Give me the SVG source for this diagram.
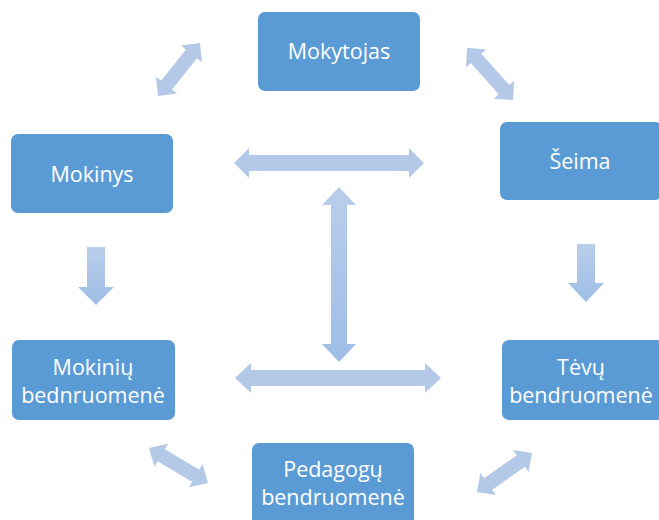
<svg xmlns="http://www.w3.org/2000/svg" width="659" height="520" viewBox="0 0 659 520">
<defs>
<linearGradient id="ga" x1="0" y1="0" x2="0" y2="1">
<stop offset="0" stop-color="#B9CEEB"/>
<stop offset="1" stop-color="#9EBDE6"/>
</linearGradient>
<style>
.node rect{fill:#5B9BD5;}
.node text{fill:#FFFFFF;font-family:"Open Sans","Liberation Sans",sans-serif;font-size:21.5px;text-anchor:middle;}
.arr{fill:#B4C8E8;}
.grad{fill:url(#ga);}
</style>
</defs>
<rect width="659" height="520" fill="#FFFFFF"/>
<g id="connectors">
<path class="arr" transform="translate(179,69.5) rotate(-51.6)" d="M-33.8 0 L-20 -13.5 L-20 -7 L20 -7 L20 -13.5 L33.8 0 L20 13.5 L20 7 L-20 7 L-20 13.5 Z"/>
<path class="arr" transform="translate(490,74) rotate(48.5)" d="M-34.7 0 L-21 -13.5 L-21 -7 L21 -7 L21 -13.5 L34.7 0 L21 13.5 L21 7 L-21 7 L-21 13.5 Z"/>
<path class="arr" transform="translate(329,163)" d="M-95 0 L-80 -15 L-80 -8 L80 -8 L80 -15 L95 0 L80 15 L80 8 L-80 8 L-80 15 Z"/>
<path class="grad" transform="translate(339,274.5)" d="M0 -87.5 L17 -69.5 L8 -69.5 L8 69.5 L17 69.5 L0 87.5 L-17 69.5 L-8 69.5 L-8 -69.5 L-17 -69.5 Z"/>
<path class="grad" d="M87 247 L105 247 L105 287 L114 287 L96 305 L78 287 L87 287 Z"/>
<path class="grad" d="M577 244 L595 244 L595 283 L604 283 L586 302 L568 283 L577 283 Z"/>
<path class="arr" transform="translate(338,378)" d="M-103 0 L-87 -15 L-87 -8 L87 -8 L87 -15 L103 0 L87 15 L87 8 L-87 8 L-87 15 Z"/>
<path class="arr" transform="translate(178.5,465.5) rotate(30.7)" d="M-34.3 0 L-20 -13.5 L-20 -7 L20 -7 L20 -13.5 L34.3 0 L20 13.5 L20 7 L-20 7 L-20 13.5 Z"/>
<path class="arr" transform="translate(504.5,472.5) rotate(-35.3)" d="M-33.7 0 L-20 -13.5 L-20 -7 L20 -7 L20 -13.5 L33.7 0 L20 13.5 L20 7 L-20 7 L-20 13.5 Z"/>
</g>
<g id="mokytojas" class="node"><rect x="258" y="12" width="162" height="79" rx="7"/><text x="339" y="59">Mokytojas</text></g>
<g id="seima" class="node"><rect x="500" y="122" width="162" height="78" rx="7"/><text x="580" y="169">Šeima</text></g>
<g id="mokinys" class="node"><rect x="11" y="134" width="162" height="79" rx="7"/><text x="92" y="182">Mokinys</text></g>
<g id="mokiniu" class="node"><rect x="12" y="340" width="163" height="80" rx="7"/><text x="93" y="375">Mokinių</text><text x="93" y="403">bednruomenė</text></g>
<g id="tevu" class="node"><rect x="502" y="340" width="162" height="80" rx="7"/><text x="581" y="375">Tėvų</text><text x="581" y="403">bendruomenė</text></g>
<g id="pedagogu" class="node"><rect x="252" y="443" width="162" height="85" rx="7"/><text x="333" y="477">Pedagogų</text><text x="333" y="505">bendruomenė</text></g>
</svg>
